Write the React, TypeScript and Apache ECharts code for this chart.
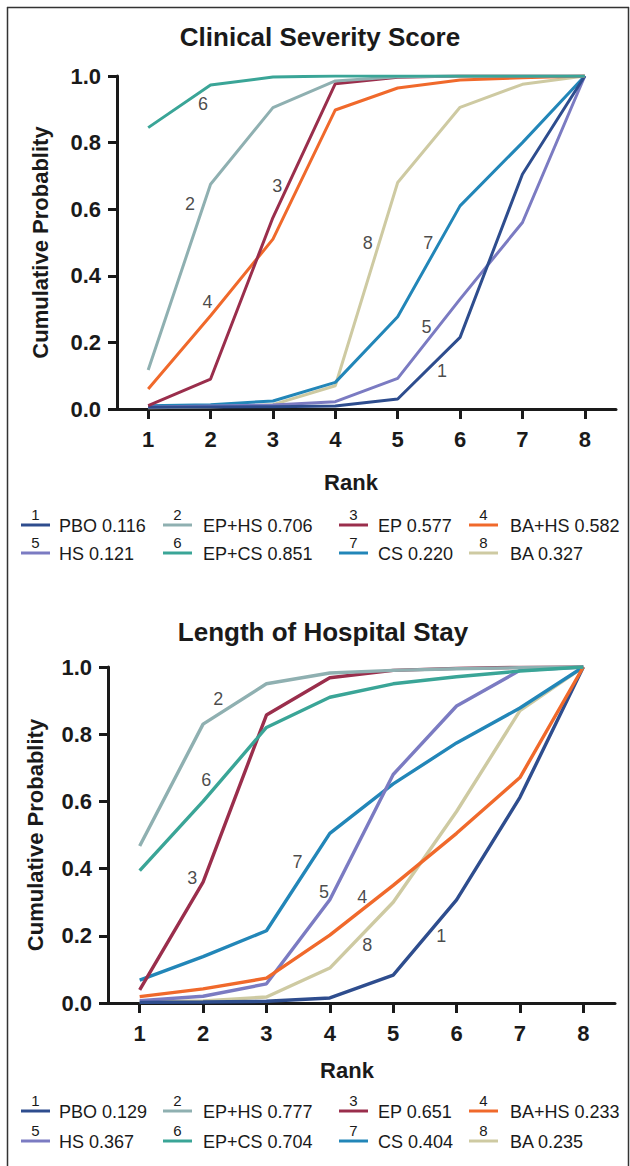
import React, { useEffect, useRef } from "react";
import * as echarts from "echarts";

// ---------- data ----------
const ranks = ["1", "2", "3", "4", "5", "6", "7", "8"];
const rankValues = [1, 2, 3, 4, 5, 6, 7, 8];
const treatments = ["PBO", "EP+HS", "EP", "BA+HS", "HS", "EP+CS", "CS", "BA"];
const yTicks = [0, 0.2, 0.4, 0.6, 0.8, 1.0];

// Clinical Severity Score – cumulative ranking probability
const cssPBO = [0.005, 0.006, 0.007, 0.009, 0.03, 0.215, 0.705, 1.0];
const cssEPHS = [0.117, 0.675, 0.905, 0.985, 0.998, 1.0, 1.0, 1.0];
const cssEP = [0.01, 0.09, 0.575, 0.977, 0.996, 1.0, 1.0, 1.0];
const cssBAHS = [0.06, 0.28, 0.51, 0.898, 0.964, 0.988, 0.995, 1.0];
const cssHS = [0.006, 0.009, 0.012, 0.022, 0.092, 0.33, 0.56, 1.0];
const cssEPCS = [0.845, 0.973, 0.997, 1.0, 1.0, 1.0, 1.0, 1.0];
const cssCS = [0.01, 0.013, 0.024, 0.08, 0.277, 0.61, 0.8, 1.0];
const cssBA = [0.004, 0.006, 0.013, 0.07, 0.68, 0.906, 0.975, 1.0];
const cssSucra = [0.116, 0.706, 0.577, 0.582, 0.121, 0.851, 0.22, 0.327];

// Length of Hospital Stay – cumulative ranking probability
const losPBO = [0.002, 0.003, 0.005, 0.015, 0.083, 0.307, 0.612, 1.0];
const losEPHS = [0.467, 0.83, 0.95, 0.982, 0.99, 0.995, 0.998, 1.0];
const losEP = [0.039, 0.36, 0.857, 0.968, 0.99, 0.996, 0.999, 1.0];
const losBAHS = [0.019, 0.042, 0.074, 0.202, 0.35, 0.505, 0.671, 1.0];
const losHS = [0.007, 0.02, 0.057, 0.307, 0.68, 0.884, 0.99, 1.0];
const losEPCS = [0.394, 0.6, 0.82, 0.91, 0.95, 0.971, 0.988, 1.0];
const losCS = [0.068, 0.138, 0.215, 0.505, 0.652, 0.774, 0.878, 1.0];
const losBA = [0.004, 0.006, 0.018, 0.104, 0.3, 0.57, 0.87, 1.0];
const losSucra = [0.129, 0.777, 0.651, 0.233, 0.367, 0.704, 0.404, 0.235];

// curve number annotations (rank, probability), in treatment order 1..8
const cssLabelAt = [
  [5.71, 0.114], [1.67, 0.616], [3.07, 0.67], [1.95, 0.32],
  [5.46, 0.246], [1.88, 0.916], [5.49, 0.5], [4.52, 0.5],
];
const losLabelAt = [
  [5.76, 0.2], [2.24, 0.905], [1.83, 0.372], [4.51, 0.316],
  [3.91, 0.33], [2.05, 0.664], [3.49, 0.42], [4.59, 0.173],
];

// ---------- styles ----------
const colors = [
  "#2E4D8E", "#8FB0B1", "#9A2E4C", "#F0692B",
  "#7B7BC2", "#3AA597", "#2286B8", "#CECAA2",
];
const FONT = "Liberation Sans, Arial, Helvetica, sans-serif";
const INK = "#1a1a1a";

const cssData = [cssPBO, cssEPHS, cssEP, cssBAHS, cssHS, cssEPCS, cssCS, cssBA];
const losData = [losPBO, losEPHS, losEP, losBAHS, losHS, losEPCS, losCS, losBA];

function buildSeries(data: number[][], labelAt: number[][], xIdx: number, yIdx: number, lw: number) {
  const out: any[] = [];
  const drawOrder = [7, 6, 4, 0, 3, 2, 1, 5];
  drawOrder.forEach((i) => {
    out.push({
      type: "line",
      name: treatments[i],
      xAxisIndex: xIdx,
      yAxisIndex: yIdx,
      data: rankValues.map((r, k) => [r, data[i][k]]),
      symbol: "none",
      lineStyle: { color: colors[i], width: lw },
      itemStyle: { color: colors[i] },
      z: 2,
      silent: true,
    });
  });
  out.push({
    type: "scatter",
    xAxisIndex: xIdx,
    yAxisIndex: yIdx,
    symbolSize: 1,
    itemStyle: { color: "rgba(0,0,0,0)" },
    data: labelAt.map((p, i) => [p[0], p[1], String(i + 1)]),
    label: {
      show: true,
      position: "inside",
      formatter: (p: any) => p.data[2],
      fontFamily: FONT,
      fontSize: 18,
      color: INK,
    },
    z: 5,
    silent: true,
  });
  return out;
}

function catAxis(gridIndex: number) {
  return {
    type: "category",
    gridIndex,
    data: ranks,
    boundaryGap: true,
    axisLine: { show: true, lineStyle: { color: INK, width: 3 } },
    axisTick: { show: true, alignWithLabel: true, length: 10, lineStyle: { color: INK, width: 3 } },
    axisLabel: { fontFamily: FONT, fontSize: 22, fontWeight: "bold", color: INK, margin: 19 },
    splitLine: { show: false },
  };
}

function valXAxis(gridIndex: number) {
  return { type: "value", gridIndex, min: 0.5, max: 8.5, show: false };
}

function yAxis(gridIndex: number, gap: number) {
  return {
    type: "value",
    gridIndex,
    min: 0,
    max: 1,
    interval: 0.2,
    name: "Cumulative Probablity",
    nameLocation: "middle",
    nameRotate: 90,
    nameGap: gap,
    nameTextStyle: { fontFamily: FONT, fontSize: 22, fontWeight: "bold", color: INK },
    axisLine: { show: true, lineStyle: { color: INK, width: 3 } },
    axisTick: { show: true, length: 9, lineStyle: { color: INK, width: 3 } },
    axisLabel: {
      fontFamily: FONT, fontSize: 22, fontWeight: "bold", color: INK, margin: 16,
      formatter: (v: number) => (yTicks.some((t) => Math.abs(t - v) < 1e-9) ? v.toFixed(1) : ""),
    },
    splitLine: { show: false },
  };
}

function legendGraphics(sucra: number[], row1: number, row2: number) {
  const lineX = [21, 163, 339, 469];
  const textX = [59, 203, 378, 510];
  const els: any[] = [];
  treatments.forEach((name, i) => {
    const col = i % 4;
    const y = i < 4 ? row1 : row2;
    const x0 = lineX[col];
    els.push({
      type: "line",
      shape: { x1: x0, y1: y, x2: x0 + 29, y2: y },
      style: { stroke: colors[i], lineWidth: 3 },
      silent: true,
    });
    els.push({
      type: "text",
      x: x0 + 14.5,
      y: y - 11,
      style: {
        text: String(i + 1), fontFamily: FONT, fontSize: 15, fill: INK,
        textAlign: "center", textVerticalAlign: "middle",
      },
      silent: true,
    });
    els.push({
      type: "text",
      x: textX[col],
      y: y + 1,
      style: {
        text: name + " " + sucra[i].toFixed(3), fontFamily: FONT, fontSize: 18, fill: INK,
        textAlign: "left", textVerticalAlign: "middle",
      },
      silent: true,
    });
  });
  return els;
}

function centeredText(text: string, x: number, y: number, size: number) {
  return {
    type: "text",
    x,
    y,
    style: {
      text, fontFamily: FONT, fontSize: size, fontWeight: "bold", fill: INK,
      textAlign: "center", textVerticalAlign: "middle",
    },
    silent: true,
  };
}

export default function App() {
  const ref = useRef<HTMLDivElement>(null);

  useEffect(() => {
    document.body.style.margin = "0";
    if (!ref.current) return;
    const chart = echarts.init(ref.current, null, { renderer: "svg" });
    const option: any = {
      animation: false,
      backgroundColor: "#ffffff",
      grid: [
        { left: 117, top: 76, width: 499, height: 333 },
        { left: 108, top: 667, width: 507, height: 336 },
      ],
      xAxis: [catAxis(0), valXAxis(0), catAxis(1), valXAxis(1)],
      yAxis: [yAxis(0, 66), yAxis(1, 62)],
      series: [
        ...buildSeries(cssData, cssLabelAt, 1, 0, 3),
        ...buildSeries(losData, losLabelAt, 3, 1, 3.4),
      ],
      graphic: [
        { type: "line", shape: { x1: 7.5, y1: 7, x2: 7.5, y2: 1166 }, style: { stroke: "#333", lineWidth: 1.5 }, silent: true },
        { type: "line", shape: { x1: 7, y1: 7.5, x2: 629, y2: 7.5 }, style: { stroke: "#333", lineWidth: 1.5 }, silent: true },
        { type: "line", shape: { x1: 628.5, y1: 7, x2: 628.5, y2: 1166 }, style: { stroke: "#333", lineWidth: 1.5 }, silent: true },
        centeredText("Clinical Severity Score", 320, 37, 26),
        centeredText("Length of Hospital Stay", 323, 632, 26),
        centeredText("Rank", 351, 482, 22),
        centeredText("Rank", 347, 1070, 22),
        ...legendGraphics(cssSucra, 525, 553),
        ...legendGraphics(losSucra, 1111, 1141),
      ],
    };
    chart.setOption(option);
    return () => chart.dispose();
  }, []);

  return <div ref={ref} style={{ width: 630, height: 1166 }} />;
}
